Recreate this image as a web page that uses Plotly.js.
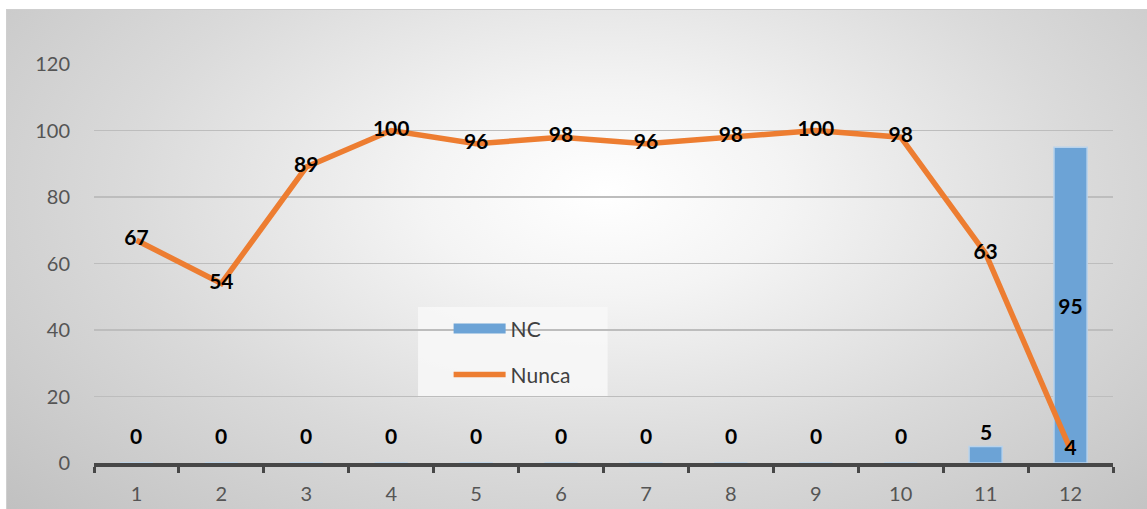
<!DOCTYPE html>
<html>
<head>
<meta charset="utf-8">
<script src="https://cdn.plot.ly/plotly-3.0.1.min.js"></script>
<style>
  html, body { margin: 0; padding: 0; background: #ffffff; overflow: hidden; width: 1147px; height: 509px; }
  #frame {
    position: absolute; left: 6px; top: 9px; width: 1150px; height: 510px;
    border: 1px solid #cfcfcf; box-sizing: border-box;
    background: radial-gradient(ellipse 72% 92% at 52% 36%, #ffffff 0%, #f4f4f4 22%, #dadada 58%, #c0c0c0 100%);
  }
  #chart { position: absolute; left: 0; top: 0; width: 1150px; height: 510px; }
</style>
</head>
<body>
<div id="frame"><div id="chart"></div></div>
<script>
// Categories and series
const categories = ['1','2','3','4','5','6','7','8','9','10','11','12'];
const ncValues = [0, 0, 0, 0, 0, 0, 0, 0, 0, 0, 5, 95];
const nuncaValues = [67, 54, 89, 100, 96, 98, 96, 98, 100, 98, 63, 4];
const yTicks = [0, 20, 40, 60, 80, 100, 120];

const ncColor = '#6ca3d6';
const nuncaColor = '#ed7d31';
const labelFont = { family: 'Lato, "Noto Sans", sans-serif', size: 21, color: '#000000', weight: 'bold' };
const tickFont = { family: 'Lato, "Noto Sans", sans-serif', size: 20, color: '#555555' };
const legendFont = { family: 'Lato, "Noto Sans", sans-serif', size: 21, color: '#404040' };

// Tall bars carry their label inside; short ones get a label above
const barText = ncValues.map(v => '<b>' + v + '</b>');
const barTextPos = ncValues.map(v => (v > 20 ? 'inside' : 'none'));

const ncTrace = {
  type: 'bar', name: 'NC', x: categories, y: ncValues,
  width: 0.39,
  marker: { color: ncColor, line: { color: '#b9d3ec', width: 1.5 } },
  text: barText, textposition: barTextPos, insidetextanchor: 'middle',
  textfont: labelFont, insidetextfont: labelFont,
  showlegend: false
};

// Legend entry for the bars, drawn as a thick swatch
const ncLegend = {
  type: 'scatter', mode: 'lines', name: 'NC', x: [null], y: [null],
  line: { color: ncColor, width: 12 }, legend: 'legend', hoverinfo: 'skip'
};

const nuncaTrace = {
  type: 'scatter', mode: 'lines+text', name: 'Nunca', x: categories, y: nuncaValues,
  line: { color: nuncaColor, width: 5.5 },
  text: nuncaValues.map(v => '<b>' + v + '</b>'), textposition: 'middle center',
  textfont: labelFont, cliponaxis: false, legend: 'legend2'
};

// Labels above the short bars; empty bars keep a small baseline gap
const barLabels = [];
ncValues.forEach((v, i) => {
  if (v <= 20) {
    barLabels.push({
      x: i, y: v, xref: 'x', yref: 'y',
      text: '<b>' + v + '</b>', showarrow: false,
      yanchor: 'bottom', yshift: v === 0 ? 13 : 0, font: labelFont
    });
  }
});

const plotL = 87, plotR = 1106, plotT = 54, plotB = 453, W = 1150, H = 510;

const layout = {
  width: W, height: H,
  margin: { l: plotL, r: W - plotR, t: plotT, b: H - plotB },
  paper_bgcolor: 'rgba(0,0,0,0)', plot_bgcolor: 'rgba(0,0,0,0)',
  showlegend: true,
  xaxis: {
    type: 'category', range: [-0.5, 11.5], fixedrange: true,
    showline: true, linecolor: '#474747', linewidth: 3.5,
    ticks: 'outside', tickson: 'boundaries', ticklen: 6, tickwidth: 3, tickcolor: '#474747',
    showgrid: false, tickfont: tickFont, ticklabelstandoff: 10
  },
  yaxis: {
    range: [0, 120], tickvals: yTicks, fixedrange: true,
    showgrid: true, gridcolor: '#bdbdbd', gridwidth: 1.5,
    zeroline: false, showline: false, ticks: '',
    tickfont: tickFont, ticklabelstandoff: 23
  },
  legend: {
    x: 0.348, y: 0.336, xanchor: 'left', yanchor: 'middle',
    bgcolor: 'rgba(0,0,0,0)', font: legendFont, itemwidth: 52
  },
  legend2: {
    x: 0.348, y: 0.221, xanchor: 'left', yanchor: 'middle',
    bgcolor: 'rgba(0,0,0,0)', font: legendFont, itemwidth: 52
  },
  shapes: [{
    type: 'rect', xref: 'paper', yref: 'paper', layer: 'below',
    x0: 0.318, x1: 0.504, y0: 0.165, y1: 0.391,
    fillcolor: 'rgba(248,248,248,0.85)', line: { width: 0 }
  }],
  annotations: barLabels
};

Plotly.newPlot('chart', [ncTrace, nuncaTrace, ncLegend], layout, { displayModeBar: false, staticPlot: true });
</script>
</body>
</html>
